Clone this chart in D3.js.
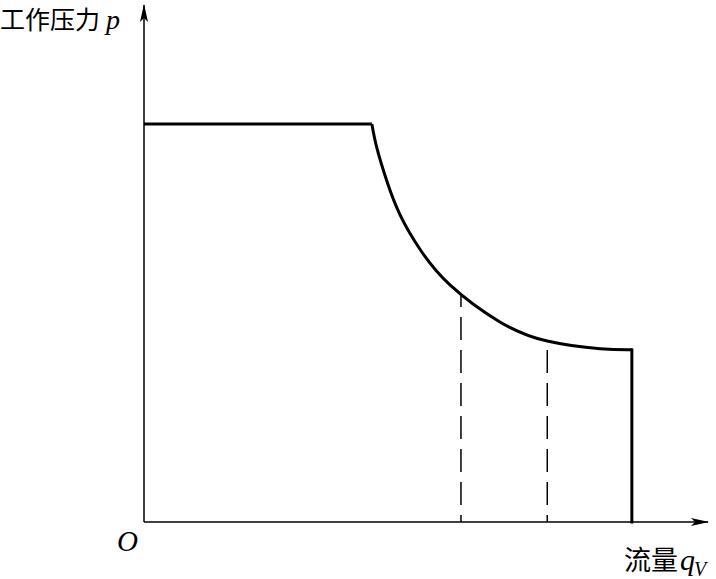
<!DOCTYPE html>
<html>
<head>
<meta charset="utf-8">
<script src="https://cdn.jsdelivr.net/npm/d3@7"></script>
<style>
  body { margin: 0; background: #fff; }
  svg { display: block; }
  .cjk { font-family: "Noto Sans CJK SC", sans-serif; }
  .ital { font-family: "Liberation Serif", "DejaVu Serif", serif; font-style: italic; }
</style>
</head>
<body>
<svg id="chart" width="716" height="579"></svg>
<script>
// flow q_V vs working pressure p (arbitrary units)
var flatP =      7.70
var kneeQ =      4.04
var curveQ =     [4.04, 4.13, 4.31, 4.54, 4.89, 5.43, 6.31, 7.15, 8.09, 8.65]
var curveP =     [7.70, 7.23, 6.58, 5.94, 5.28, 4.58, 3.87, 3.50, 3.35, 3.33]
var maxQ =       8.65
var dashQ =      [5.62, 7.15]   // dashed guide lines
var dashP =      [4.41, 3.50]

var yLabel =     '工作压力'
var yVar =       'p'
var xLabel =     '流量'
var xVar =       'q'
var xSub =       'V'
var originText = 'O'

var svg = d3.select('#chart')
var x = d3.scaleLinear().domain([0, 10]).range([144, 708])
var y = d3.scaleLinear().domain([0, 10]).range([522, 5])

var defs = svg.append('defs')
defs.append('marker')
    .attr('id', 'arrow')
    .attr('viewBox', '0 0 18 8')
    .attr('refX', 17).attr('refY', 4)
    .attr('markerWidth', 18).attr('markerHeight', 8)
    .attr('markerUnits', 'userSpaceOnUse')
    .attr('orient', 'auto')
  .append('path')
    .attr('d', 'M0,0 L18,4 L0,8 L4,4 Z')
    .attr('fill', '#000')

// axes
svg.append('line')
    .attr('x1', x(0)).attr('y1', y(0))
    .attr('x2', x(10)).attr('y2', y(0))
    .attr('stroke', '#000').attr('stroke-width', 1.5)
    .attr('marker-end', 'url(#arrow)')
svg.append('line')
    .attr('x1', x(0)).attr('y1', y(0))
    .attr('x2', x(0)).attr('y2', y(10))
    .attr('stroke', '#000').attr('stroke-width', 1.5)
    .attr('marker-end', 'url(#arrow)')

// dashed guides, drawn from the axis upward
dashQ.forEach(function(q, i) {
    svg.append('line')
        .attr('x1', x(q)).attr('y1', y(0))
        .attr('x2', x(q)).attr('y2', y(dashP[i]))
        .attr('stroke', '#000').attr('stroke-width', 1.5)
        .attr('stroke-dasharray', '23,10')
        .attr('stroke-dashoffset', 16)
})

// characteristic
var pts = curveQ.map(function(q, i) { return [q, curveP[i]] })
var line = d3.line()
    .x(function(d) { return x(d[0]) })
    .y(function(d) { return y(d[1]) })
var curve = d3.line()
    .x(function(d) { return x(d[0]) })
    .y(function(d) { return y(d[1]) })
    .curve(d3.curveNatural)

svg.append('path')
    .attr('d', line([[0, flatP], [kneeQ, flatP]]))
    .attr('fill', 'none').attr('stroke', '#000').attr('stroke-width', 3)
svg.append('path')
    .attr('d', curve(pts))
    .attr('fill', 'none').attr('stroke', '#000').attr('stroke-width', 3)
svg.append('path')
    .attr('d', line([[maxQ, curveP[curveP.length - 1]], [maxQ, 0]]))
    .attr('fill', 'none').attr('stroke', '#000').attr('stroke-width', 3)
    .attr('stroke-linecap', 'square')

// labels
var yl = svg.append('text').attr('x', 0).attr('y', 29)
yl.append('tspan').attr('class', 'cjk').attr('font-size', 25).text(yLabel)
yl.append('tspan').attr('class', 'ital').attr('font-size', 28).attr('dx', 6).text(yVar)

svg.append('text').attr('class', 'ital')
    .attr('x', 117).attr('y', 551)
    .attr('font-size', 29)
    .text(originText)

var xl = svg.append('text').attr('x', 624).attr('y', 570)
xl.append('tspan').attr('class', 'cjk').attr('font-size', 27).text(xLabel)
xl.append('tspan').attr('class', 'ital').attr('font-size', 30).attr('dx', 2).text(xVar)
xl.append('tspan').attr('class', 'ital').attr('font-size', 20).attr('dy', 6).attr('dx', -1).text(xSub)
</script>
</body>
</html>
